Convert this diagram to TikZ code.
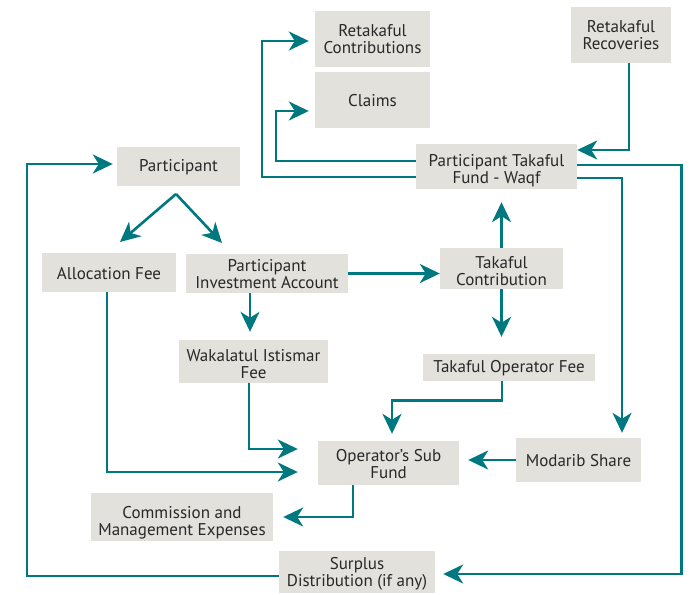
\documentclass[tikz,border=0pt]{standalone}
\usepackage{fontspec}
\setmainfont{PT Sans}
\usetikzlibrary{arrows.meta}
\definecolor{flowteal}{RGB}{0,120,128}
\definecolor{boxgray}{RGB}{226,225,220}
\definecolor{textgray}{RGB}{40,40,40}

\begin{document}
\begin{tikzpicture}[x=1pt, y=-1pt]

  \tikzset{
    box/.style={
      fill=boxgray,
      inner sep=0pt,
    },
    box text/.style={
      text=textgray,
      align=center,
      inner sep=0pt,
      font=\fontsize{17}{17}\selectfont,
    },
    flow/.style={
      draw=flowteal,
      line width=2.6pt,
      -{Stealth[length=20pt, width=19pt, inset=6pt]},
    },
  }

  \useasboundingbox (0,0) rectangle (692,594);

  % boxes: name / x / y / width / height / text drop / text
  \foreach \name/\x/\y/\w/\h/\dy/\txt in {
    retcontrib/372.5/39/115/56/0/{Retakaful\\Contributions},
    claims/372.5/100/115/56/1/{Claims},
    retrecov/621/35/100/56/0/{Retakaful\\Recoveries},
    waqf/496.5/166.5/161/45/4.5/{Participant Takaful\\Fund - Waqf},
    participant/178.5/166.5/123/39/1/{Participant},
    allocfee/109/272.5/134/39/1/{Allocation Fee},
    investacc/267/273.5/162/39/1/{Participant\\Investment Account},
    contrib/501.5/268.5/123/41/2.5/{Takaful\\Contribution},
    wakalah/253.5/361.5/149/43/3/{Wakalatul Istismar\\Fee},
    opfee/509/367.5/172/27/1/{Takaful Operator Fee},
    subfund/388.5/463/141/44/1.5/{Operator’s Sub\\Fund},
    modarib/578.5/460/125/44/1/{Modarib Share},
    expenses/182/517/182/48/5.5/{Commission and\\Management Expenses},
    surplus/357/572/156/42/1.5/{Surplus\\Distribution (if any)}%
  } {
    \node[box, minimum width=\w pt, minimum height=\h pt] (\name) at (\x,\y) {};
    \node[box text] at (\x,\y+\dy) {\txt};
  }

  % participant splits
  \coordinate (split) at (176,194);
  \coordinate (split left) at (120,242);
  \coordinate (split right) at (222,243);
  \draw[flow] (split) -- (split left);
  \draw[flow] (split) -- (split right);

  % out of the waqf fund
  \draw[flow, shorten >=6pt] ([yshift=-10.5pt]waqf.west)
    -| ([xshift=-53pt, yshift=-2pt]retcontrib.west) -- ([yshift=-2pt]retcontrib.west);
  \draw[flow, shorten >=6pt] ([yshift=5.5pt]waqf.west)
    -| ([xshift=-39pt, yshift=-11pt]claims.west) -- ([yshift=-11pt]claims.west);
  \draw[flow] ([xshift=8pt]retrecov.south) |- ([yshift=16.5pt]waqf.east);
  \draw[flow, shorten >=5pt] ([yshift=-11.5pt]waqf.east) -| ([xshift=43.5pt]modarib.north);
  \draw[flow, shorten >=8pt] ([yshift=1.5pt]waqf.east)
    -| ([xshift=246pt, yshift=-2pt]surplus.east) -- ([yshift=-2pt]surplus.east);
  \draw[flow, shorten >=4pt] ([yshift=-4pt]surplus.west)
    -| ([xshift=-90pt, yshift=2.5pt]participant.west) -- ([yshift=2.5pt]participant.west);

  % contributions
  \draw[flow] (investacc.east) -- (investacc.east -| contrib.west);
  \draw[flow, shorten >=13pt] (contrib.north) -- (contrib.north |- waqf.south);
  \draw[flow, shorten >=17pt] (contrib.south) -- (contrib.south |- opfee.north);
  \draw[flow, shorten >=8pt] ([xshift=-17pt]investacc.south)
    -- ([xshift=-17pt]investacc.south |- wakalah.north);

  % into the operator's sub fund
  \draw[flow, shorten >=20pt] ([xshift=-4.5pt]wakalah.south) |- ([yshift=14pt]subfund.west);
  \draw[flow, shorten >=20pt] ([xshift=-2pt]allocfee.south) |- ([yshift=-9pt]subfund.west);
  \draw[flow, shorten >=7pt] ([xshift=-7pt]opfee.south) -- ([xshift=-7pt, yshift=-19pt]opfee.south)
    -| ([xshift=3.5pt]subfund.north);
  \draw[flow, shorten >=9pt] (modarib.west) -- (modarib.west -| subfund.east);
  \draw[flow, shorten >=10pt] ([xshift=-35.5pt]subfund.south) |- (expenses.east);

\end{tikzpicture}
\end{document}
